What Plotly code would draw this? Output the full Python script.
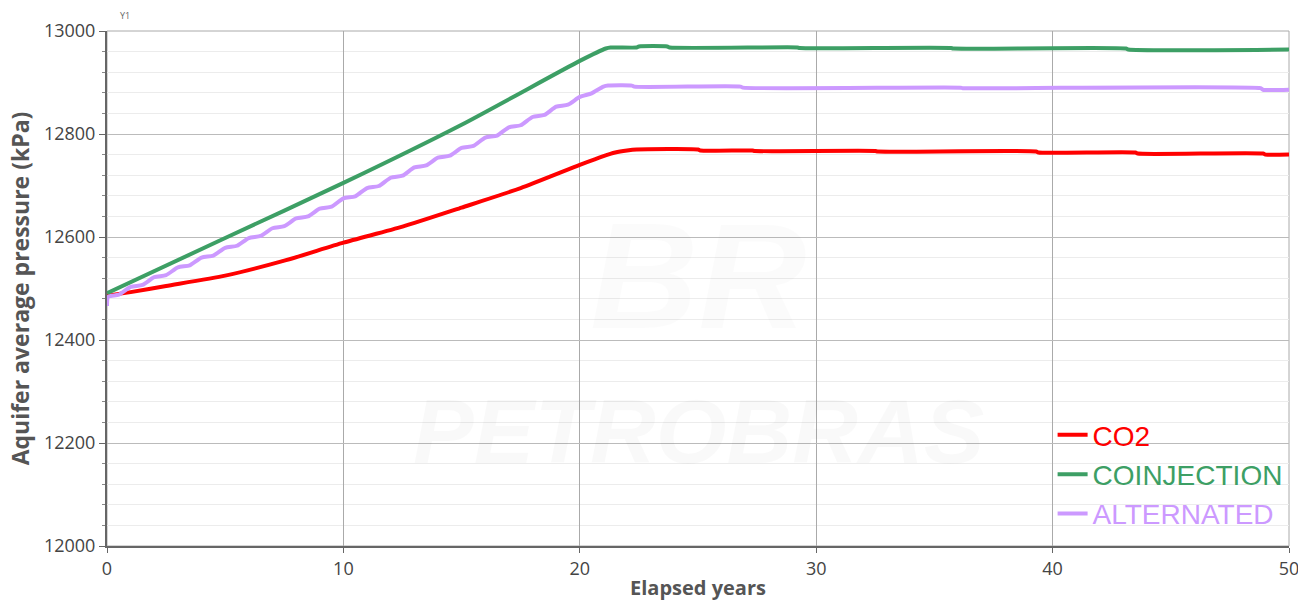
import plotly.graph_objects as go

# ---- data ----
co2_years = [0, 1, 2.5, 5, 7.5, 10, 12.5, 15, 17.5, 20, 21, 21.5, 22, 22.4,
             25, 25.1, 27.3, 27.4, 32.5, 32.6, 39.3, 39.4, 43.5, 43.6, 48.9, 49.0, 50]
co2_kpa = [12486, 12493, 12505, 12525, 12554, 12589, 12620, 12657, 12695, 12740, 12757, 12764, 12768, 12770,
           12770, 12768, 12768, 12767, 12767, 12766, 12766, 12764, 12764, 12762, 12762, 12760, 12760]

coinj_years = [0, 5, 10, 15, 20, 21.1, 21.3, 22.4, 22.5, 23.7, 23.8, 29.2, 29.3, 35.7, 35.8, 43.1, 43.2, 50]
coinj_kpa = [12491, 12598, 12705, 12818, 12942, 12966, 12968, 12968, 12970, 12970, 12968, 12968, 12967, 12967,
             12966, 12966, 12964, 12964]

alt_years = [0, 0.05, 0.5, 1, 1.5, 2, 2.5, 3, 3.5, 4, 4.5, 5, 5.5, 6, 6.5, 7, 7.5, 8, 8.5, 9, 9.5,
             10, 10.5, 11, 11.5, 12, 12.5, 13, 13.5, 14, 14.5, 15, 15.5, 16, 16.5, 17, 17.5, 18, 18.5,
             19, 19.5, 20, 20.5, 21, 21.2, 22.2, 22.3, 26.8, 26.9, 36.1, 36.2, 48.8, 48.9, 50]
alt_kpa = [12466, 12484, 12488, 12503, 12507, 12522, 12526, 12541, 12545, 12560, 12564, 12579, 12583,
           12598, 12602, 12617, 12621, 12636, 12640, 12655, 12659, 12675, 12679, 12695, 12699, 12715,
           12719, 12735, 12739, 12754, 12758, 12773, 12777, 12793, 12797, 12813, 12817, 12833, 12837,
           12853, 12857, 12872, 12879, 12892, 12894, 12894, 12892, 12892, 12890, 12890, 12889, 12889,
           12886, 12886]

series = [
    ("CO2", co2_years, co2_kpa, "#ff0000"),
    ("COINJECTION", coinj_years, coinj_kpa, "#3d9f65"),
    ("ALTERNATED", alt_years, alt_kpa, "#cc99ff"),
]

fig = go.Figure()
for name, xs, ys, color in series:
    fig.add_trace(go.Scatter(
        x=xs, y=ys, mode="lines", legendgroup=name,
        name=f'<span style="color:{color}">{name}</span>',
        line=dict(color=color, width=4, shape="spline", smoothing=0.6),
    ))

tick_font = dict(family="Open Sans", size=18, color="#444")

fig.update_layout(
    width=1298, height=601,
    margin=dict(l=107, r=9, t=31, b=55),
    paper_bgcolor="white", plot_bgcolor="white",
    showlegend=True,
    legend=dict(
        x=0.8, y=0.264, xanchor="left", yanchor="top",
        bgcolor="rgba(0,0,0,0)",
        font=dict(family="Liberation Sans", size=28),
        tracegroupgap=0, itemwidth=30,
    ),
    xaxis=dict(
        range=[0, 50], dtick=10, tick0=0, automargin=False,
        showgrid=True, gridcolor="#aaaaaa", gridwidth=1,
        showline=True, linecolor="#666", linewidth=2,
        ticks="outside", ticklen=5, tickcolor="#666",
        tickfont=tick_font, zeroline=False, ticklabeloverflow="allow",
        title=dict(text="Elapsed years",
                   font=dict(family="Open Sans", size=20, color="#555", weight="bold"),
                   standoff=9),
    ),
    yaxis=dict(
        range=[12000, 13000], dtick=200, tick0=12000, tickformat="d", automargin=False,
        showgrid=True, gridcolor="#bbbbbb", gridwidth=1,
        minor=dict(dtick=40, showgrid=True, gridcolor="#ececec", ticks="outside",
                   ticklen=3, tickcolor="#888"),
        showline=True, linecolor="#666", linewidth=2,
        ticks="outside", ticklen=6, tickcolor="#666",
        tickfont=tick_font, zeroline=False,
        title=dict(text="Aquifer average pressure (kPa)",
                   font=dict(family="Open Sans", size=23, color="#555", weight="bold"),
                   standoff=8),
    ),
    shapes=[dict(type="rect", xref="paper", yref="paper", x0=0, y0=0, x1=1, y1=1,
                 line=dict(color="#aaaaaa", width=1), layer="below")],
    annotations=[
        dict(text="Y1", xref="paper", yref="paper", x=0.015, y=1.031, showarrow=False,
             font=dict(family="Open Sans", size=9, color="#666"), xanchor="center", yanchor="middle"),
        dict(text="<b><i>BR</i></b>", xref="paper", yref="paper", x=0.5, y=0.525,
             showarrow=False, font=dict(family="Liberation Sans", size=150, color="rgba(0,0,0,0.016)"),
             xanchor="center", yanchor="middle"),
        dict(text="<b><i>PETROBRAS</i></b>", xref="paper", yref="paper", x=0.5, y=0.222,
             showarrow=False, font=dict(family="Liberation Sans", size=91, color="rgba(0,0,0,0.022)"),
             xanchor="center", yanchor="middle"),
    ],
)

fig.write_html("out.html")
